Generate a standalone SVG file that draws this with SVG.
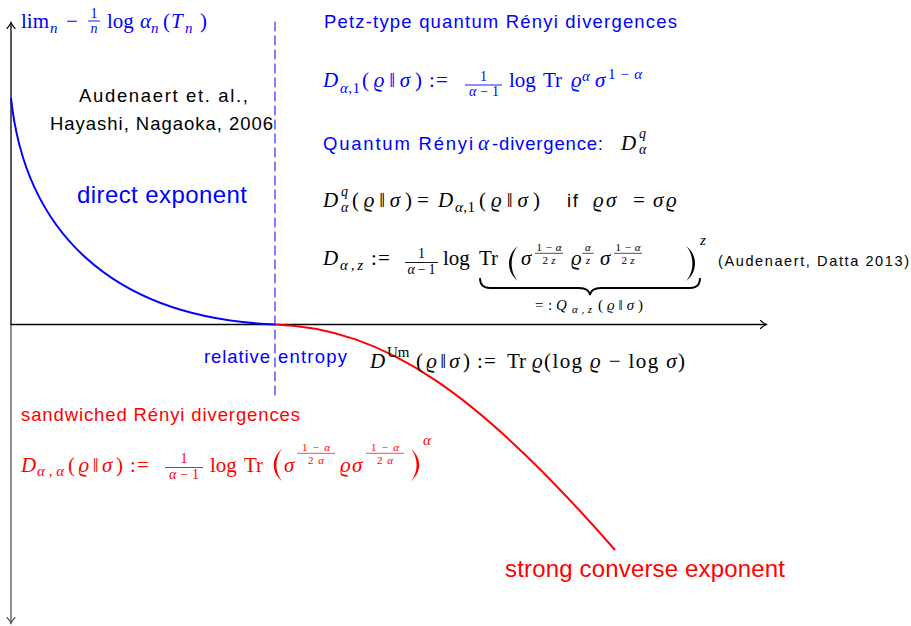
<svg xmlns="http://www.w3.org/2000/svg" width="911" height="626" viewBox="0 0 911 626">
<style>
.sf{font-family:"Liberation Sans",Arial,sans-serif;}
.mf{font-family:"Liberation Serif","DejaVu Serif",serif;font-size:21px;}
.it{font-style:italic;}
.s15{font-size:15px;}
.s14{font-size:14px;}
.s11{font-size:11px;}
.b{fill:#0000ff;}
.r{fill:#ff0000;}
.k{fill:#000;}
.bar{stroke-width:0.9;}
.thin{stroke-width:0.7;}
</style>
<rect width="911" height="626" fill="#fff"/>
<g id="axes" fill="none" stroke-linecap="round">
  <line x1="11" y1="324.5" x2="11" y2="23" stroke="#000" stroke-width="1.3"/>
  <path d="M7,28.5 Q9.5,26 11,22.5 Q12.5,26 15,28.5" stroke="#000" stroke-width="1.1"/>
  <line x1="11" y1="324.5" x2="11" y2="623" stroke="#555" stroke-width="1.3"/>
  <path d="M7,617.5 Q9.5,620 11,623.5 Q12.5,620 15,617.5" stroke="#555" stroke-width="1.1"/>
  <line x1="11" y1="324.5" x2="766" y2="324.5" stroke="#000" stroke-width="1.3"/>
  <path d="M760.5,320.5 Q763,323 766.5,324.5 Q763,326 760.5,328.5" stroke="#000" stroke-width="1.1"/>
  <line x1="275" y1="22" x2="275" y2="400" stroke="#0000ff" stroke-width="1" stroke-dasharray="9 5"/>
</g>
<g id="connectors" fill="none" stroke-width="2">
  <path id="direct-curve" d="M11,98 C25,230 110,318 275,324.5" stroke="#0000ff"/>
  <path id="converse-curve" d="M275,324.5 C385,328 480,395 615,550" stroke="#ff0000"/>
</g>
<g id="ylabel">
  <text class="mf b" x="21" y="28">lim</text>
  <text class="mf it s15 b" x="50" y="33">n</text>
  <text class="mf b" x="66" y="28">−</text>
  <text class="mf s14 b" x="94" y="17.5" text-anchor="middle">1</text>
  <line class="bar" x1="88" y1="21" x2="100" y2="21" stroke="#0000ff"/>
  <text class="mf it s14 b" x="94" y="33" text-anchor="middle">n</text>
  <text class="mf b" x="107" y="28">log</text>
  <text class="mf it b" x="140" y="28">α</text>
  <text class="mf it s15 b" x="151" y="33">n</text>
  <text class="mf b" x="163" y="28">(</text>
  <text class="mf it b" x="171" y="28">T</text>
  <text class="mf it s15 b" x="185" y="33">n</text>
  <text class="mf b" x="200" y="28">)</text>
</g>
<g id="audenaert">
  <text class="sf k" font-size="18.5" x="79" y="102" textLength="169">Audenaert et. al.,</text>
  <text class="sf k" font-size="18.5" x="50" y="130" textLength="223">Hayashi, Nagaoka, 2006</text>
</g>
<g id="direct-exponent">
  <text class="sf b" font-size="24" x="77" y="203" textLength="170">direct exponent</text>
</g>
<g id="petz">
  <text class="sf b" font-size="18.5" x="324" y="28" textLength="353">Petz-type quantum Rényi divergences</text>
</g>
<g id="petz-formula">
  <text class="mf it b" x="323" y="87">D</text>
  <text class="mf s15 b" x="340" y="93" textLength="20"><tspan class="it">α</tspan>,1</text>
  <text class="mf b" x="362" y="87" textLength="60">(<tspan class="it">ϱ</tspan>‖<tspan class="it">σ</tspan>)</text>
  <text class="mf b" x="429" y="87">:</text>
  <text class="mf b" x="436" y="87">=</text>
  <text class="mf s14 b" x="483.5" y="80.5" text-anchor="middle">1</text>
  <line class="bar" x1="465" y1="85" x2="502" y2="85" stroke="#0000ff"/>
  <text class="mf s14 b" x="484" y="96" text-anchor="middle" textLength="30"><tspan class="it">α</tspan>−1</text>
  <text class="mf b" x="509" y="87">log</text>
  <text class="mf b" x="543" y="87">Tr</text>
  <text class="mf it b" x="571" y="87">ϱ</text>
  <text class="mf it s15 b" x="582" y="81">α</text>
  <text class="mf it b" x="595" y="87">σ</text>
  <text class="mf s15 b" x="608" y="79" textLength="34">1−<tspan class="it">α</tspan></text>
</g>
<g id="quantum">
  <text class="sf b" font-size="18.5" x="323" y="150" textLength="150">Quantum Rényi</text>
  <text class="mf it b" x="478" y="150">α</text>
  <text class="sf b" font-size="18.5" x="492" y="150" textLength="111">-divergence:</text>
  <text class="mf it k" x="621" y="150">D</text>
  <text class="mf it s14 k" x="639" y="138">q</text>
  <text class="mf it s14 k" x="639" y="154">α</text>
</g>
<g id="commuting">
  <text class="mf it k" x="323" y="207">D</text>
  <text class="mf it s14 k" x="341" y="196">q</text>
  <text class="mf it s14 k" x="341" y="212">α</text>
  <text class="mf k" x="352" y="207" textLength="60">(<tspan class="it">ϱ</tspan>‖<tspan class="it">σ</tspan>)</text>
  <text class="mf k" x="417" y="207">=</text>
  <text class="mf it k" x="438" y="207">D</text>
  <text class="mf s15 k" x="455" y="212" textLength="20"><tspan class="it">α</tspan>,1</text>
  <text class="mf k" x="479" y="207" textLength="61">(<tspan class="it">ϱ</tspan>‖<tspan class="it">σ</tspan>)</text>
  <text class="sf k" font-size="18.5" x="567" y="207" textLength="11">if</text>
  <text class="mf it k" x="593" y="207">ϱ</text>
  <text class="mf it k" x="606" y="207">σ</text>
  <text class="mf k" x="633" y="207">=</text>
  <text class="mf it k" x="653" y="207">σ</text>
  <text class="mf it k" x="666" y="207">ϱ</text>
</g>
<g id="alpha-z">
  <text class="mf it k" x="323" y="265">D</text>
  <text class="mf s15 it k" x="340" y="270" textLength="23">α,z</text>
  <text class="mf k" x="371" y="265">:</text>
  <text class="mf k" x="378" y="265">=</text>
  <text class="mf s14 k" x="421.5" y="258" text-anchor="middle">1</text>
  <line class="bar" x1="405" y1="262.5" x2="438" y2="262.5" stroke="#000"/>
  <text class="mf s14 k" x="421.5" y="273.5" text-anchor="middle" textLength="28"><tspan class="it">α</tspan>−1</text>
  <text class="mf k" x="443" y="265">log</text>
  <text class="mf k" x="479" y="265">Tr</text>
  <path d="M518,246 C506,255 506,272 518,281 C509.5,272 509.5,255 518,246 Z" fill="#000"/>
  <text class="mf it k" x="521" y="265">σ</text>
  <text class="mf s11 k" x="549" y="250.5" text-anchor="middle" textLength="25">1−<tspan class="it">α</tspan></text>
  <line class="thin" x1="535" y1="253.3" x2="563" y2="253.3" stroke="#000"/>
  <text class="mf s11 k" x="549" y="263.5" text-anchor="middle" textLength="13">2<tspan class="it">z</tspan></text>
  <text class="mf it k" x="571" y="265">ϱ</text>
  <text class="mf s11 it k" x="588" y="250.5" text-anchor="middle">α</text>
  <line class="thin" x1="582.5" y1="253.3" x2="593.5" y2="253.3" stroke="#000"/>
  <text class="mf s11 it k" x="588" y="263.5" text-anchor="middle">z</text>
  <text class="mf it k" x="600" y="265">σ</text>
  <text class="mf s11 k" x="628" y="250.5" text-anchor="middle" textLength="25">1−<tspan class="it">α</tspan></text>
  <line class="thin" x1="614" y1="253.3" x2="642" y2="253.3" stroke="#000"/>
  <text class="mf s11 k" x="628" y="263.5" text-anchor="middle" textLength="13">2<tspan class="it">z</tspan></text>
  <path d="M686,246 C698,255 698,272 686,281 C694.5,272 694.5,255 686,246 Z" fill="#000"/>
  <text class="mf s15 it k" x="700" y="245">z</text>
  <path d="M480,278 Q480,288 490,288 L579,288 Q589,288 590,295 Q591,288 601,288 L690,288 Q700,288 700,278" fill="none" stroke="#000" stroke-width="1.8"/>
  <text class="mf s15 k" x="535" y="310">=</text>
  <text class="mf s15 k" x="548" y="310">:</text>
  <text class="mf s15 it k" x="556" y="310">Q</text>
  <text class="mf s11 it k" x="572" y="313" textLength="20">α,z</text>
  <text class="mf s15 k" x="598" y="310" textLength="45">(<tspan class="it">ϱ</tspan>‖<tspan class="it">σ</tspan>)</text>
</g>
<g id="audenaert-datta">
  <text class="sf k" font-size="14.5" x="718" y="266" textLength="191">(Audenaert, Datta 2013)</text>
</g>
<g id="relative-entropy">
  <text class="sf b" font-size="18.5" x="204" y="363" textLength="66">relative</text>
  <text class="sf b" font-size="18.5" x="278" y="363" textLength="69">entropy</text>
</g>
<g id="umegaki">
  <text class="mf it k" x="370" y="368">D</text>
  <text class="mf s15 k" x="387" y="357">Um</text>
  <text class="mf k" x="416" y="368" textLength="54">(<tspan class="it">ϱ</tspan>‖<tspan class="it">σ</tspan>)</text>
  <text class="mf k" x="477" y="368">:</text>
  <text class="mf k" x="484" y="368">=</text>
  <text class="mf k" x="507" y="368">Tr</text>
  <text class="mf k" x="532" y="368" textLength="153"><tspan class="it">ϱ</tspan>(log <tspan class="it">ϱ</tspan> − log <tspan class="it">σ</tspan>)</text>
</g>
<g id="sandwiched">
  <text class="sf r" font-size="18.5" x="21" y="421" textLength="279">sandwiched Rényi divergences</text>
</g>
<g id="sandwiched-formula">
  <text class="mf it r" x="21" y="471.5">D</text>
  <text class="mf s15 it r" x="37" y="476" textLength="27">α,α</text>
  <text class="mf r" x="68" y="471.5" textLength="55">(<tspan class="it">ϱ</tspan>‖<tspan class="it">σ</tspan>)</text>
  <text class="mf r" x="130" y="471.5">:</text>
  <text class="mf r" x="137" y="471.5">=</text>
  <text class="mf s14 r" x="184" y="463" text-anchor="middle">1</text>
  <line class="bar" x1="165" y1="467.5" x2="203" y2="467.5" stroke="#ff0000"/>
  <text class="mf s14 r" x="184" y="478.5" text-anchor="middle" textLength="30"><tspan class="it">α</tspan>−1</text>
  <text class="mf r" x="210" y="471.5">log</text>
  <text class="mf r" x="244" y="471.5">Tr</text>
  <path d="M282,449 C271,458 271,472 282,481 C274.5,472 274.5,458 282,449 Z" fill="#ff0000"/>
  <text class="mf it r" x="284" y="471.5">σ</text>
  <text class="mf s11 r" x="316" y="450.5" text-anchor="middle" textLength="28">1−<tspan class="it">α</tspan></text>
  <line class="thin" x1="297" y1="453.3" x2="335" y2="453.3" stroke="#ff0000"/>
  <text class="mf s11 r" x="316" y="463.5" text-anchor="middle" textLength="16">2<tspan class="it">α</tspan></text>
  <text class="mf it r" x="340" y="471.5">ϱ</text>
  <text class="mf it r" x="352" y="471.5">σ</text>
  <text class="mf s11 r" x="385" y="450.5" text-anchor="middle" textLength="28">1−<tspan class="it">α</tspan></text>
  <line class="thin" x1="366" y1="453.3" x2="404" y2="453.3" stroke="#ff0000"/>
  <text class="mf s11 r" x="385" y="463.5" text-anchor="middle" textLength="16">2<tspan class="it">α</tspan></text>
  <path d="M411,449 C422,458 422,472 411,481 C418.5,472 418.5,458 411,449 Z" fill="#ff0000"/>
  <text class="mf s15 it r" x="423" y="445">α</text>
</g>
<g id="strong-converse">
  <text class="sf r" font-size="24" x="505" y="577" textLength="280">strong converse exponent</text>
</g>
</svg>
